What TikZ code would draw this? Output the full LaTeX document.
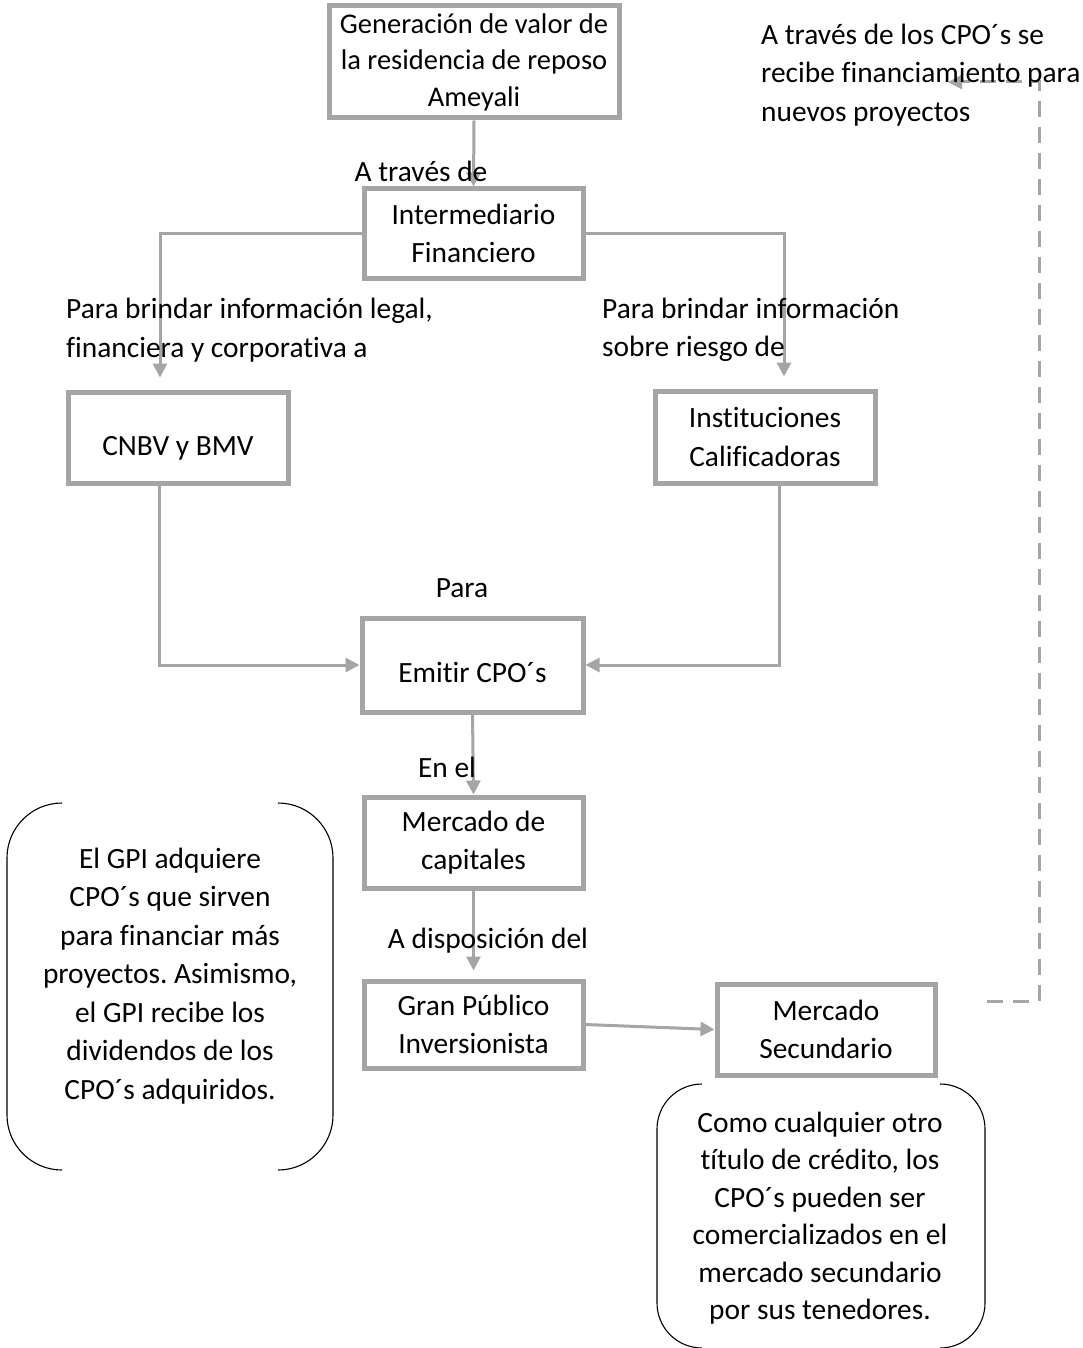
\documentclass[tikz,border=0pt]{standalone}
\usepackage{fontspec}
\setmainfont{Carlito}[Ligatures=CommonOff]
\usetikzlibrary{arrows.meta}
\definecolor{boxgray}{HTML}{A5A5A5}
\frenchspacing
\begin{document}
\begin{tikzpicture}[x=1pt,y=-1pt,
  every node/.style={font=\fontsize{29.4}{38.5}\selectfont, inner sep=0pt},
  flowbox/.style={draw=boxgray, line width=5pt, align=center, fill=white},
  lbl/.style={align=center},
  arr/.style={draw=boxgray, line width=3pt, -{Triangle[length=14pt,width=14pt]}},
  bracket/.style={draw=black, line width=1.1pt}
]
\useasboundingbox (0,0) rectangle (1083,1348);

% boxes
\node[flowbox, font=\fontsize{28.5}{36.5}\selectfont, minimum width=290pt, minimum height=112pt] (b1) at (474,62) {Generación de valor de\\la residencia de reposo\\Ameyali};
\node[flowbox, minimum width=219pt, minimum height=89pt] (b2) at (473.5,233.5) {Intermediario\\Financiero};
\node[flowbox, minimum width=220pt, minimum height=91pt, text height=41pt, text depth=6pt] (cnbv) at (178,437.5) {CNBV y BMV};
\node[flowbox, minimum width=220pt, minimum height=92pt] (inst) at (765,437) {Instituciones\\Calificadoras};
\node[flowbox, minimum width=221pt, minimum height=94pt, text height=41pt, text depth=6pt] (emit) at (472.5,665) {Emitir CPO´s};
\node[flowbox, minimum width=219pt, minimum height=91pt] (merc) at (473.5,842.5) {Mercado de\\capitales};
\node[flowbox, minimum width=219pt, minimum height=87pt] (gpi) at (473.5,1024.5) {Gran Público\\Inversionista};
\node[flowbox, minimum width=218pt, minimum height=91pt] (msec) at (826,1029.5) {Mercado\\Secundario};

% connectors
\draw[arr] (b1.south) -- (b2.north);
\draw[arr, shorten >=12pt] (b2.west) -| ([xshift=-18pt]cnbv.north);
\draw[arr, shorten >=12pt] (b2.east) -| ([xshift=19pt]inst.north);
\draw[arr] ([xshift=-19pt]cnbv.south) |- (emit.west);
\draw[arr] ([xshift=14pt]inst.south) |- (emit.east);
\draw[arr] (emit.south) -- (merc.north);
\draw[arr, shorten >=8pt] (merc.south) -- (gpi.north);
\draw[arr] (gpi.east) -- (msec.west);

\coordinate (ds) at (987,1001);
\coordinate (de) at (948,82);
\draw[arr, dash pattern=on 16pt off 10pt] (ds) -- (1039,1001) -- (1039,82) -- (de);

% labels
\node[lbl] (l1) at (421,171) {A través de};
\node[align=left, anchor=west] (l2) at (66,330) {Para brindar información legal,\\financiera y corporativa a};
\node[align=left, anchor=west] (l3) at (602,330) {Para brindar información\\sobre riesgo de};
\node[lbl] (l4) at (462,588) {Para};
\node[lbl] (l5) at (447,767) {En el};
\node[lbl] (l6) at (488,941) {A disposición del};
\node[align=left, anchor=west] (l7) at (761,75) {A través de los CPO´s se\\recibe financiamiento para\\nuevos proyectos};

% bracketed notes
\draw[bracket, rounded corners=55pt] (62,803) -- (7,803) -- (7,1170) -- (62,1170);
\draw[bracket, rounded corners=55pt] (278,803) -- (333,803) -- (333,1170) -- (278,1170);
\node[lbl] (n1) at (170,976) {El GPI adquiere\\CPO´s que sirven\\para financiar más\\proyectos. Asimismo,\\el GPI recibe los\\dividendos de los\\CPO´s adquiridos.};

\draw[bracket, rounded corners=45pt] (702,1084) -- (657,1084) -- (657,1348) -- (702,1348);
\draw[bracket, rounded corners=45pt] (940,1084) -- (985,1084) -- (985,1348) -- (940,1348);
\node[lbl, font=\fontsize{29.4}{37.5}\selectfont] (n2) at (820,1218) {Como cualquier otro\\título de crédito, los\\CPO´s pueden ser\\comercializados en el\\mercado secundario\\por sus tenedores.};
\end{tikzpicture}
\end{document}
